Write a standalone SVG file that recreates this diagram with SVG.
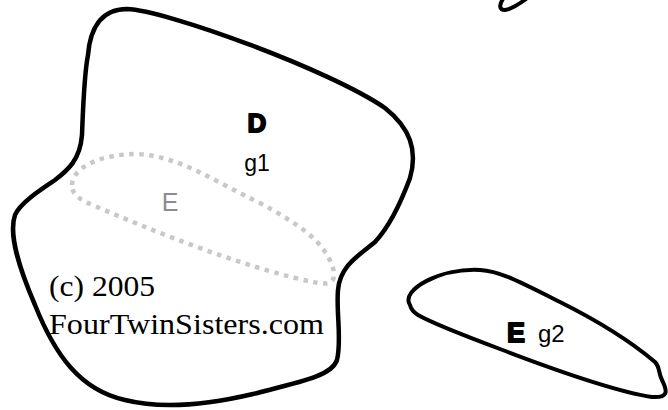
<svg xmlns="http://www.w3.org/2000/svg" width="668" height="410" viewBox="0 0 668 410">
<style>
.outline{fill:none;stroke:#000;stroke-width:4.5;stroke-linejoin:round;stroke-linecap:round}
.dotted{fill:none;stroke:#c8c8c8;stroke-width:4.5;stroke-dasharray:4.5 5.5}
.lbl{font-family:"Liberation Sans",Arial,sans-serif;fill:#000}
.big{font-family:"Liberation Sans",Arial,sans-serif;font-weight:900;fill:#000;stroke:#000;stroke-width:1.8;stroke-linejoin:round}
.serif{font-family:"Liberation Serif","Times New Roman",serif;fill:#000;font-size:30px}
</style>
<rect width="668" height="410" fill="#fff"/>
<g id="D">
<path class="outline" d="M 127,9 C 165,10 330,70 385,108 C 410,128 418,150 410,178 C 400,205 388,228 375,242 C 358,256 340,266 338,290 C 336,312 342,340 337,360 C 332,376 300,382 253,394 C 215,403 165,410 125,400 C 80,390 55,355 35,305 C 20,270 8,235 15,215 C 20,203 40,190 55,180 C 68,170 80,160 82,135 C 83,110 84,75 88,55 C 90,30 100,9 127,9 Z"/>
<text class="big" x="257" y="132" font-size="26" text-anchor="middle">D</text>
<text class="lbl" x="257" y="171" font-size="23" text-anchor="middle">g1</text>
</g>
<g id="E1">
<path class="dotted" d="M 72,185 C 72,168 100,154 137,154 C 180,156 215,182 260,203 C 300,225 322,240 332,265 C 338,282 330,285 318,283 C 250,270 150,230 95,206 C 80,200 72,195 72,185 Z"/>
<text class="lbl" x="170" y="211" font-size="25" style="fill:#8c8c8c" text-anchor="middle">E</text>
</g>
<g id="E2">
<path class="outline" style="stroke-width:4" d="M 410,305 C 400,290 440,268 480,270 C 500,271 520,282 560,302 C 600,322 635,345 655,362 C 660,367 658,372 662,380 C 668,392 668,398 652,397 C 620,392 560,372 500,349 C 460,334 430,322 418,315 C 413,312 411,309 410,305 Z"/>
<text class="big" x="507" y="342" font-size="27">E</text>
<text class="lbl" x="538" y="342" font-size="24">g2</text>
</g>
<g id="topshape">
<path class="outline" style="stroke-width:4" d="M 503,-1 C 499,5 499,10 505,10 C 512,9 518,5 526,-1"/>
</g>
<g id="copyright">
<text class="serif" x="49" y="296" textLength="106" lengthAdjust="spacingAndGlyphs">(c) 2005</text>
<text class="serif" x="49" y="334" textLength="275" lengthAdjust="spacingAndGlyphs">FourTwinSisters.com</text>
</g>
<g id="connectors"/>
</svg>
